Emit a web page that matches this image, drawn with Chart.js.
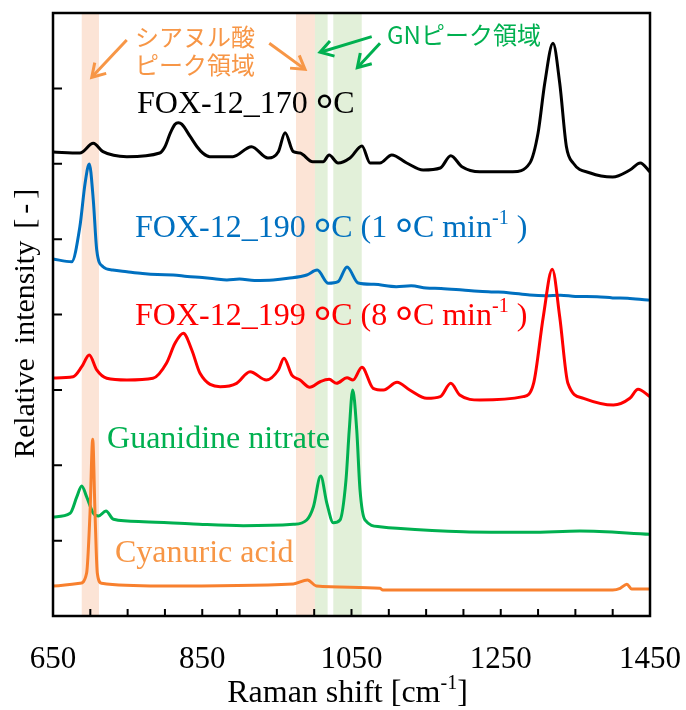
<!DOCTYPE html>
<html>
<head>
<meta charset="utf-8">
<script src="https://cdn.jsdelivr.net/npm/chart.js@4.4.1/dist/chart.umd.min.js"></script>
<style>
  html, body { margin: 0; padding: 0; background: #fff; }
  canvas { display: block; }
</style>
</head>
<body>
<canvas id="myChart" width="686" height="710"></canvas>
<script>
const serif = '"Liberation Serif", "Times New Roman", serif';
const gothic = '"Noto Sans CJK JP", sans-serif';

// axis ticks
const xLabelTicks = [650, 850, 1050, 1250, 1450];
const xMinorTicks = [700, 750, 800, 850, 900, 950, 1000, 1050, 1100, 1150, 1200, 1250, 1300, 1350, 1400];
const yTicks = [1, 2, 3, 4, 5, 6, 7];

// spectra (Raman shift / offset relative intensity)
const blackX = [650, 686, 704, 717, 749, 793, 800, 807, 813.5, 818, 822.5, 834, 843, 851, 860, 891, 916, 938, 952, 961, 972, 981, 998, 1012, 1020, 1032, 1048, 1064, 1075, 1088, 1104, 1124, 1146, 1169, 1183, 1198, 1222, 1266, 1289, 1300, 1309, 1320, 1329, 1338, 1347, 1370, 1400, 1423, 1437, 1450];
const blackY = [6.156, 6.143, 6.271, 6.160, 6.094, 6.143, 6.226, 6.404, 6.525, 6.545, 6.525, 6.359, 6.226, 6.139, 6.094, 6.094, 6.226, 6.076, 6.160, 6.412, 6.160, 6.143, 6.027, 6.027, 6.116, 6.010, 6.076, 6.236, 6.010, 6.010, 6.116, 6.010, 5.917, 5.944, 6.107, 5.961, 5.895, 5.895, 6.010, 6.408, 7.071, 7.598, 7.071, 6.226, 6.010, 5.877, 5.824, 5.917, 6.010, 5.891];

const blueX = [650, 675, 686, 693, 698.6, 704, 708.6, 717, 730, 749, 770, 790, 811, 830, 850, 866, 883, 900, 920, 945, 965, 990, 1004, 1019, 1032, 1044, 1059, 1080, 1110, 1130, 1150, 1170, 1199, 1220, 1240, 1260, 1289, 1310, 1330, 1350, 1379, 1400, 1420, 1447, 1450];
const blueY = [4.736, 4.700, 5.165, 5.741, 5.997, 5.519, 4.856, 4.634, 4.590, 4.568, 4.545, 4.530, 4.524, 4.505, 4.490, 4.475, 4.458, 4.470, 4.452, 4.458, 4.480, 4.524, 4.590, 4.414, 4.435, 4.630, 4.418, 4.400, 4.369, 4.380, 4.352, 4.345, 4.325, 4.310, 4.300, 4.290, 4.259, 4.250, 4.255, 4.240, 4.236, 4.220, 4.215, 4.192, 4.190];

const redX = [650, 677, 688.5, 698.6, 708.6, 722, 749, 784, 802, 813.5, 824.6, 836, 847, 874, 896, 914, 936, 952, 959.5, 970, 981, 994, 1008, 1020, 1030, 1044, 1052, 1064, 1079, 1093, 1111, 1128, 1151, 1169, 1183, 1195, 1222, 1280, 1294, 1307, 1319, 1329, 1340, 1361, 1401, 1423, 1434, 1450];
const redY = [3.158, 3.175, 3.307, 3.463, 3.264, 3.154, 3.131, 3.154, 3.353, 3.618, 3.751, 3.529, 3.220, 3.042, 3.087, 3.241, 3.131, 3.264, 3.419, 3.197, 3.131, 3.034, 3.108, 3.140, 3.087, 3.162, 3.131, 3.300, 3.021, 2.998, 3.100, 2.998, 2.888, 2.910, 3.087, 2.932, 2.866, 2.910, 3.087, 3.971, 4.600, 3.971, 3.087, 2.888, 2.799, 2.888, 3.008, 2.910];

const greenX = [650, 673, 682, 688.5, 695, 704, 711, 721, 731, 771, 838, 905, 972, 990, 999, 1008.7, 1017, 1025.6, 1034.6, 1042.6, 1047, 1051.6, 1057, 1061.4, 1068, 1088, 1111, 1200, 1289, 1356, 1450];
const greenY = [1.313, 1.363, 1.583, 1.725, 1.583, 1.363, 1.327, 1.393, 1.283, 1.251, 1.221, 1.198, 1.217, 1.274, 1.450, 1.857, 1.495, 1.238, 1.274, 1.804, 2.468, 2.998, 2.468, 1.672, 1.274, 1.185, 1.164, 1.118, 1.110, 1.128, 1.084];

const orangeX = [650, 686, 695, 699.6, 703.2, 706.3, 709.4, 715, 793, 972, 991, 1003, 1088, 1092, 1400, 1410, 1419, 1425.5, 1450];
const orangeY = [0.398, 0.434, 0.567, 1.367, 2.344, 1.367, 0.567, 0.434, 0.398, 0.425, 0.478, 0.398, 0.367, 0.345, 0.345, 0.367, 0.421, 0.358, 0.358];

// shaded peak regions (cm-1)
const bandFrom = [688.5, 975.6, 1001, 1025.6];
const bandTo = [711.6, 1001, 1018, 1063.7];

const ORANGE = '#F8802E';
const ORANGE_TXT = '#F79646';
const GREEN = '#00B050';
const BLUE = '#0070C0';
const RED = '#FF0000';
const bandColors = ['#FCE4D6', '#FCE4D6', '#E2F0D9', '#E2F0D9'];

const pts = (xs, ys) => xs.map((x, i) => ({ x: x, y: ys[i] }));

function fontOf(r) {
    return (r.weight || 'normal') + ' ' + (r.size || 32) + 'px ' + (r.family || serif);
}

function runsWidth(ctx, runs) {
    let w = 0;
    runs.forEach(r => {
        if (r.gap) { w += r.gap; return; }
        ctx.font = fontOf(r);
        ctx.letterSpacing = (r.ls || 0) + 'px';
        w += ctx.measureText(r.t).width;
    });
    ctx.letterSpacing = '0px';
    return w;
}

function drawRuns(ctx, x, y, runs, color) {
    ctx.save();
    ctx.fillStyle = color;
    ctx.textAlign = 'left';
    ctx.textBaseline = 'alphabetic';
    let cx = x;
    runs.forEach(r => {
        if (r.gap) { cx += r.gap; return; }
        ctx.font = fontOf(r);
        ctx.letterSpacing = (r.ls || 0) + 'px';
        ctx.fillText(r.t, cx, y + (r.dy || 0));
        cx += ctx.measureText(r.t).width;
    });
    ctx.restore();
}

function arrow(ctx, x1, y1, x2, y2, color) {
    const ang = Math.atan2(y2 - y1, x2 - x1);
    const head = 15, spread = 0.55;
    ctx.save();
    ctx.strokeStyle = color;
    ctx.lineWidth = 3;
    ctx.lineCap = 'butt';
    ctx.beginPath();
    ctx.moveTo(x1, y1);
    ctx.lineTo(x2 - 2 * Math.cos(ang), y2 - 2 * Math.sin(ang));
    ctx.stroke();
    ctx.beginPath();
    ctx.moveTo(x2 - head * Math.cos(ang - spread), y2 - head * Math.sin(ang - spread));
    ctx.lineTo(x2, y2);
    ctx.lineTo(x2 - head * Math.cos(ang + spread), y2 - head * Math.sin(ang + spread));
    ctx.stroke();
    ctx.restore();
}

const deg = { t: '°', size: 44, weight: 'bold', dy: 11 };
const sup = { t: '-1', size: 20, dy: -13 };

const decorations = {
    id: 'decorations',
    beforeDatasetsDraw(chart) {
        const { ctx, chartArea: a, scales: { x } } = chart;
        ctx.save();
        bandFrom.forEach((f, i) => {
            const l = x.getPixelForValue(f), r = x.getPixelForValue(bandTo[i]);
            ctx.fillStyle = bandColors[i];
            ctx.fillRect(l, a.top, r - l, a.bottom - a.top);
        });
        ctx.restore();
    },
    afterDatasetsDraw(chart) {
        const { ctx, chartArea: a, scales: { x, y } } = chart;
        const X = v => x.getPixelForValue(v), Y = v => y.getPixelForValue(v);

        // frame + inward ticks
        ctx.save();
        ctx.strokeStyle = '#000';
        ctx.lineWidth = 2.5;
        ctx.strokeRect(a.left, a.top, a.right - a.left, a.bottom - a.top);
        ctx.lineWidth = 2;
        ctx.beginPath();
        xMinorTicks.forEach(v => {
            ctx.moveTo(X(v), a.bottom);
            ctx.lineTo(X(v), a.bottom - 7);
        });
        yTicks.forEach(v => {
            ctx.moveTo(a.left, Y(v));
            ctx.lineTo(a.left + 9, Y(v));
        });
        ctx.stroke();
        ctx.restore();

        // series labels
        drawRuns(ctx, X(762.6), Y(6.673), [{ t: 'FOX-12_170 ' }, deg, { t: 'C' }], '#000');
        drawRuns(ctx, X(759.9), Y(5.028), [{ t: 'FOX-12_190 ' }, deg, { t: 'C (1 ' }, deg, { t: 'C min' }, sup, { t: ' )' }], BLUE);
        drawRuns(ctx, X(759.9), Y(3.861), [{ t: 'FOX-12_199 ' }, deg, { t: 'C (8 ' }, deg, { t: 'C min' }, sup, { t: ' )' }], RED);
        drawRuns(ctx, X(722.4), Y(2.229), [{ t: 'Guanidine nitrate' }], GREEN);
        drawRuns(ctx, X(733.1), Y(0.716), [{ t: 'Cyanuric acid' }], ORANGE_TXT);

        // region notes
        drawRuns(ctx, X(759.9), Y(7.562), [{ t: 'シアヌル酸', size: 24, family: gothic }], ORANGE_TXT);
        drawRuns(ctx, X(759.9), Y(7.191), [{ t: 'ピーク領域', size: 24, family: gothic }], ORANGE_TXT);
        drawRuns(ctx, X(1097.6), Y(7.589), [{ t: 'GNピーク領域', size: 24, family: gothic }], GREEN);

        arrow(ctx, X(748.8), Y(7.642), X(701.9), Y(7.147), ORANGE_TXT);
        arrow(ctx, X(939.8), Y(7.598), X(987.7), Y(7.253), ORANGE_TXT);
        arrow(ctx, X(1077.1), Y(7.686), X(1007.8), Y(7.479), GREEN);
        arrow(ctx, X(1088.2), Y(7.598), X(1057.8), Y(7.274), GREEN);

        // axis titles
        const xt = [{ t: 'Raman shift [cm', size: 32 }, { t: '-1', size: 20, dy: -13 }, { t: ']', size: 32 }];
        const xw = runsWidth(ctx, xt);
        drawRuns(ctx, (a.left + a.right) / 2 - xw / 2 - 4, 702, xt, '#000');

        const yt = [{ t: 'Relative', size: 30 }, { gap: 14 }, { t: 'intensity', size: 30 }, { gap: 12 }, { t: '[-]', size: 30, ls: 5 }];
        const yw = runsWidth(ctx, yt);
        ctx.save();
        ctx.translate(34, 321);
        ctx.rotate(-Math.PI / 2);
        drawRuns(ctx, -yw / 2, 0, yt, '#000');
        ctx.restore();
    }
};

const line = (xs, ys, color) => ({
    data: pts(xs, ys),
    borderColor: color,
    borderWidth: 3,
    pointRadius: 0,
    fill: false,
    cubicInterpolationMode: 'monotone'
});

const ctx = document.getElementById('myChart');
new Chart(ctx, {
    type: 'line',
    data: {
        datasets: [
            line(orangeX, orangeY, ORANGE),
            line(greenX, greenY, GREEN),
            line(redX, redY, RED),
            line(blueX, blueY, BLUE),
            line(blackX, blackY, '#000')
        ]
    },
    options: {
        responsive: false,
        animation: false,
        devicePixelRatio: 1,
        layout: { padding: { left: 53, right: 36, top: 13, bottom: 0 } },
        plugins: { legend: { display: false }, tooltip: { enabled: false } },
        scales: {
            x: {
                type: 'linear',
                min: 650,
                max: 1450,
                afterBuildTicks: s => { s.ticks = xLabelTicks.map(v => ({ value: v })); },
                afterFit: s => { s.height = 94; s.paddingLeft = 0; s.paddingRight = 0; },
                grid: { display: false, drawTicks: false },
                border: { display: false },
                ticks: {
                    color: '#000',
                    font: { family: serif, size: 31 },
                    padding: 25,
                    maxRotation: 0,
                    autoSkip: false,
                    callback: v => String(v)
                }
            },
            y: {
                display: false,
                min: 0,
                max: 8
            }
        }
    },
    plugins: [decorations]
});
</script>
</body>
</html>
